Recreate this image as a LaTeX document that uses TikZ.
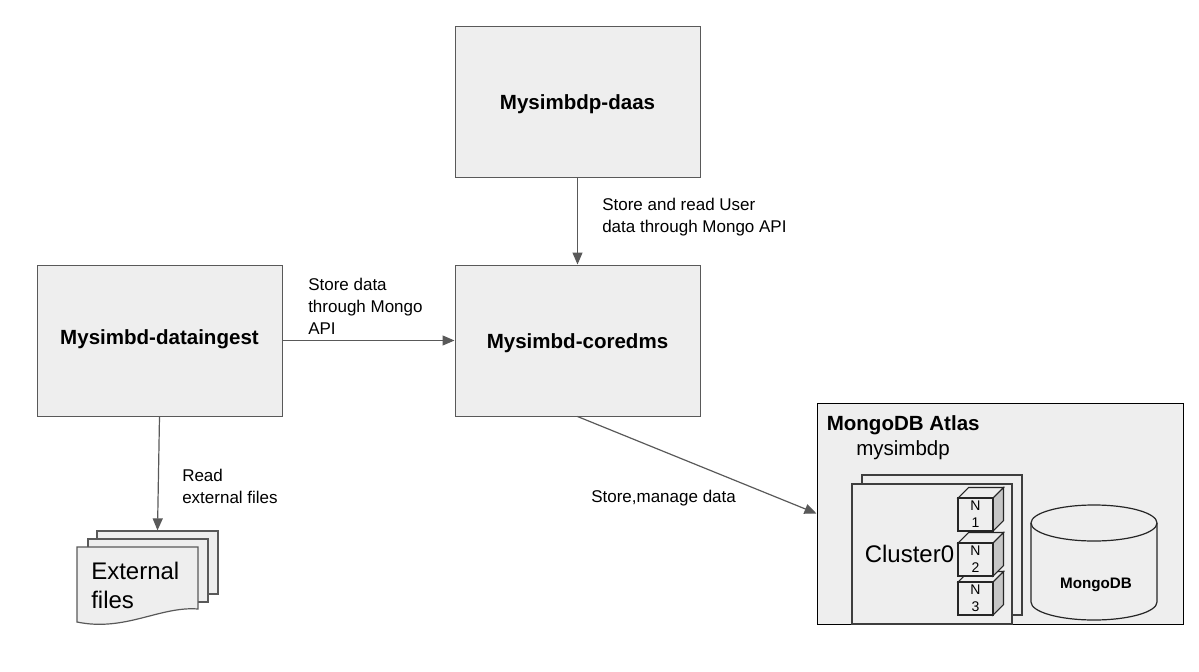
\documentclass[tikz,border=0pt]{standalone}
\usepackage{fontspec}
\setmainfont{Liberation Sans}
\usetikzlibrary{arrows.meta}
\definecolor{boxfill}{HTML}{EEEEEE}
\definecolor{boxline}{HTML}{595959}
\definecolor{cubeside}{HTML}{C6C6C6}
\definecolor{cubetop}{HTML}{EEEEEE}
\tikzset{
  block/.style={draw=boxline,fill=boxfill,line width=.75pt,minimum width=183.75pt,minimum height=113.25pt,inner sep=0pt,font=\fontsize{15.4}{18}\selectfont\bfseries,text height=13pt,text depth=1pt},
  flow/.style={draw=boxline,line width=.9pt,-{Triangle[length=9pt,width=7.5pt]}},
  lbl/.style={anchor=north west,align=left,inner sep=0pt,font=\fontsize{12.75}{16.5}\selectfont},
  page/.style={draw=boxline,fill=boxfill,line width=.9pt},
  dark/.style={draw=boxline!70!black,fill=boxfill,line width=.9pt},
}
\begin{document}
\begin{tikzpicture}[x=.75pt,y=-.75pt]
\useasboundingbox (0,0) rectangle (1199,671);
\def\CX{958};\def\CW{35};\def\CH{33};\def\CD{10.5};
% main blocks
\node[block] (daas) at (577.5,101.5) {Mysimbdp-daas};
\node[block] (coredms) at (577.5,340.5) {Mysimbd-coredms};
\node[block,text height=10pt,text depth=4pt] (ingest) at (159.5,340.5) {Mysimbd-dataingest};
% atlas frame
\node[draw=black,fill=boxfill,line width=.75pt,minimum width=274.5pt,minimum height=165.75pt,inner sep=0pt] (atlas) at (1000,513.5) {};
\node[anchor=west,inner sep=0pt,font=\fontsize{15.4}{18}\selectfont\bfseries] (atlastitle) at (826.5,425) {MongoDB Atlas};
\node[anchor=west,inner sep=0pt,font=\fontsize{15.4}{18}\selectfont] (project) at (856,450.5) {mysimbdp};
% cluster sheets
\node[dark,minimum width=120pt,minimum height=105pt,inner sep=0pt] (clusterback) at (942,545) {};
\node[dark,line width=1.1pt,minimum width=120pt,minimum height=105pt,inner sep=0pt] (clusterfront) at (932,554) {};
\node[anchor=west,inner sep=0pt,font=\fontsize{18}{22}\selectfont] (cluster) at (864.5,554) {Cluster0};
% nodes of the cluster, lowest first
\foreach \i/\Y in {3/582,2/543,1/498}{
  \filldraw[draw=black!85,fill=cubetop,line width=.8pt] (\CX,\Y)--(\CX+\CD,\Y-\CD)--(\CX+\CW+\CD,\Y-\CD)--(\CX+\CW,\Y)--cycle;
  \filldraw[draw=black!85,fill=cubeside,line width=.8pt] (\CX+\CW,\Y)--(\CX+\CW+\CD,\Y-\CD)--(\CX+\CW+\CD,\Y+\CH-\CD)--(\CX+\CW,\Y+\CH)--cycle;
  \node[draw=black!85,fill=boxfill,line width=.8pt,minimum width=26.25pt,minimum height=24.75pt,inner sep=0pt,align=center,text depth=0pt,font=\fontsize{10.5}{12.75}\selectfont] (n\i) at (\CX+\CW/2,\Y+\CH/2) {N\\\i};
}
% database
\filldraw[draw=black!85,fill=boxfill,line width=.9pt] (1031,523)--(1031,602) arc[start angle=180,end angle=0,x radius=63,y radius=18]--(1157,523) arc[start angle=0,end angle=-180,x radius=63,y radius=18]--cycle;
\draw[draw=black!85,line width=.9pt] (1031,523) arc[start angle=180,end angle=0,x radius=63,y radius=18];
\node[inner sep=0pt,font=\fontsize{11.4}{14}\selectfont\bfseries] (mongo) at (1096,585) {MongoDB};
% external files
\node[page,minimum width=90.75pt,minimum height=47.25pt,inner sep=0pt] (fileback) at (157.5,562.5) {};
\node[page,minimum width=90pt,minimum height=47.25pt,inner sep=0pt] (filemid) at (148,570.5) {};
\filldraw[page] (77,547)--(198,547)--(198,609) .. controls (160,606) and (125,632) .. (77,622)--cycle;
\node[anchor=north west,align=left,inner sep=0pt,font=\fontsize{18}{22}\selectfont] (files) at (91,562) {External\\files};
% connectors
\draw[flow] (daas.south)--(coredms.north);
\draw[flow] (ingest.south)--(fileback.north);
\draw[flow] (ingest.east)--(coredms.west);
\draw[flow] (coredms.south)--(atlas.west);
% labels
\node[lbl] (lblread) at (602,198) {Store and read User\\data through Mongo API};
\node[lbl] (lblstore) at (308,278) {Store data\\through Mongo\\API};
\node[lbl] (lblfiles) at (182,469) {Read\\external files};
\node[lbl] (lblmanage) at (591,490) {Store,manage data};
\end{tikzpicture}
\end{document}
